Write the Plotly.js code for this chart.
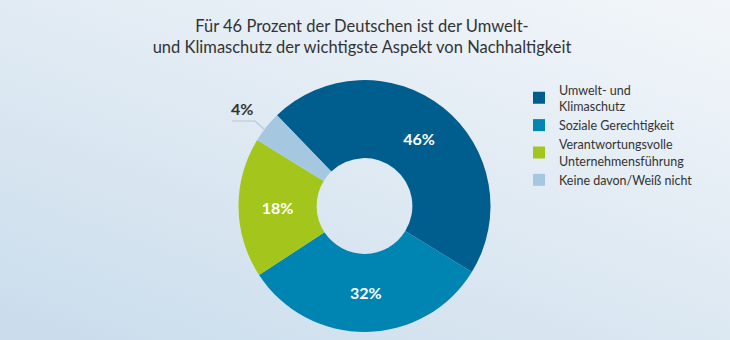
<!DOCTYPE html>
<html>
<head>
<meta charset="utf-8">
<script src="https://cdn.plot.ly/plotly-3.0.1.min.js"></script>
<style>
html,body{margin:0;padding:0;}
body{width:730px;height:340px;overflow:hidden;
background: linear-gradient(200deg, #f2f6fa 0%, #e3ecf4 40%, #c9dcec 100%);}
#chart{width:730px;height:340px;}
</style>
</head>
<body>
<div id="chart"></div>
<script>
const categories = ['Umwelt- und<br>Klimaschutz', 'Soziale Gerechtigkeit', 'Verantwortungsvolle<br>Unternehmensführung', 'Keine davon/Weiß nicht'];
const values = [46, 32, 18, 4];
const colors = ['#005e8e', '#0084b2', '#a4c61c', '#a5c8e0'];
const labelsText = values.map(v => v + '%');

const FONT = 'Lato';

const trace = {
  type: 'pie',
  labels: categories,
  values: values,
  text: labelsText,
  textinfo: 'text',
  textposition: ['inside', 'inside', 'inside', 'none'],
  insidetextfont: {family: FONT, size: 16, color: '#ffffff', weight: 700},
  insidetextorientation: 'horizontal',
  marker: {colors: colors, line: {width: 0}},
  hole: 0.38,
  sort: false,
  direction: 'clockwise',
  rotation: -44,
  domain: {x: [238/730, 491/730], y: [8/340, 260/340]},
  hoverinfo: 'none'
};

const layout = {
  width: 730, height: 340,
  margin: {l: 0, r: 0, t: 0, b: 0},
  paper_bgcolor: 'rgba(0,0,0,0)',
  plot_bgcolor: 'rgba(0,0,0,0)',
  title: {
    text: 'Für 46 Prozent der Deutschen ist der Umwelt-<br>und Klimaschutz der wichtigste Aspekt von Nachhaltigkeit',
    font: {family: FONT, size: 16.5, color: '#333333'},
    x: 362/730, xanchor: 'center', y: 1 - 32/340, yanchor: 'middle'
  },
  showlegend: true,
  legend: {
    x: 519/730, xanchor: 'left', y: 1 - 75/340, yanchor: 'top',
    font: {family: FONT, size: 12.5, color: '#333333'},
    bgcolor: 'rgba(0,0,0,0)', tracegroupgap: 0
  },
  annotations: [{
    text: '<b>' + labelsText[3] + '</b>',
    x: 242/730, y: 1 - 108/340, xref: 'paper', yref: 'paper',
    xanchor: 'center', yanchor: 'middle', showarrow: false,
    font: {family: FONT, size: 16, color: '#333333'}
  }],
  shapes: [{
    type: 'path', xref: 'paper', yref: 'paper',
    path: 'M ' + (232/730) + ' ' + (1 - 121/340) + ' L ' + (255/730) + ' ' + (1 - 121/340) + ' L ' + (264/730) + ' ' + (1 - 129/340),
    line: {color: '#b8c8d6', width: 1.2}
  }]
};

Plotly.newPlot('chart', [trace], layout, {displayModeBar: false, staticPlot: true});
</script>
</body>
</html>
